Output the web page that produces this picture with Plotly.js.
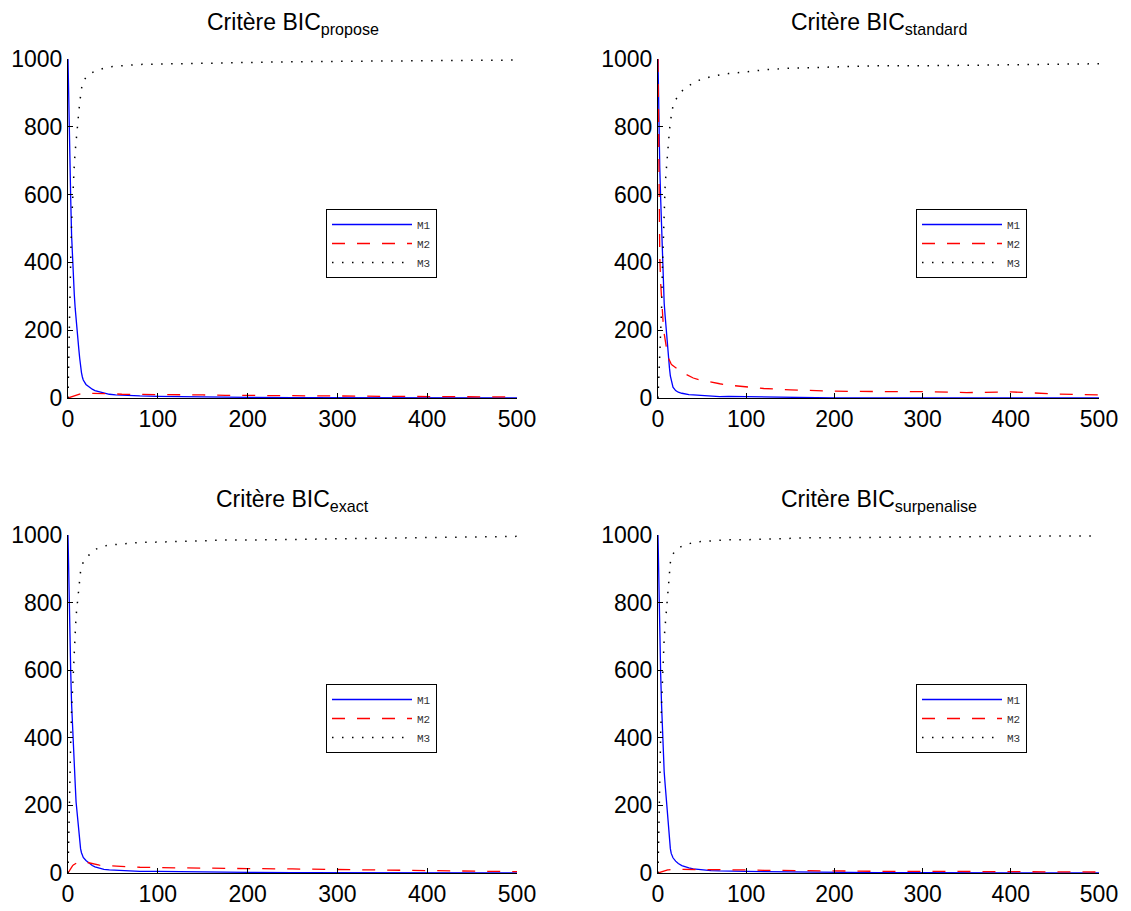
<!DOCTYPE html>
<html>
<head>
<meta charset="utf-8">
<script src="https://cdn.plot.ly/plotly-3.0.1.min.js"></script>
<style>html,body{margin:0;padding:0;background:#fff;}#chart{width:1131px;height:911px;}</style>
</head>
<body>
<div id="chart"></div>
<script>
// sample sizes (x axis)
const n = [0,1,2,3,4,5,6,7,8,9,10,11,12,13,14,15,16,17,20,23,27,30,35,40,46,53,60,70,80,100,120,150,175,200,250,300,350,400,450,500];

// Critère BIC propose
const proposeM1 = [1000,820,680,590,480,400,345,305,265,228,200,175,145,118,92,75,62,53,40,33,26,22,18,14,11,9,8,7,6,5,4,3,3,2,1,1,1,0,0,0];
const proposeM2 = [0,1,2,3,4,5,6,7,8,9,10,11,12,12,13,13,14,14,14,14,14,14,13,13,12,12,11,11,10,10,9,9,8,8,7,6,5,4,3,3];
const proposeM3 = [0,179,318,407,516,595,649,688,727,763,790,814,843,870,895,912,924,933,946,953,960,964,969,973,977,979,981,982,984,985,987,988,989,990,992,993,994,996,997,997];

// Critère BIC standard
const standardM1 = [1000,800,680,590,500,400,320,280,245,210,180,145,115,88,65,50,40,32,22,17,14,12,10,9,8,7,5,4,5,4,2,1,1,0,0,0,0,0,0,0];
const standardM2 = [1000,560,420,340,290,250,215,190,170,150,137,125,117,110,105,100,97,95,88,82,76,72,65,59,54,50,46,42,38,33,28,24,21,20,19,19,16,18,12,9];
const standardM3 = [0,60,130,200,260,380,480,560,620,660,700,735,765,790,815,835,850,862,880,892,905,912,922,930,937,943,948,953,957,962,968,973,975,978,980,980,982,982,985,986];

// Critère BIC exact
const exactM1 = [1000,820,690,600,500,430,360,310,265,210,180,140,110,90,72,60,52,46,37,30,22,18,14,11,9,8,7,6,5,5,4,3,2,2,1,1,0,0,0,0];
const exactM2 = [0,5,10,14,18,21,24,26,28,30,31,32,33,34,35,35,35,34,32,30,27,25,23,22,21,20,19,18,17,16,15,14,13,13,12,10,8,6,5,4];
const exactM3 = [0,175,300,386,482,549,616,664,707,760,789,828,857,876,893,905,913,920,931,940,951,957,963,967,970,972,974,976,978,979,981,983,985,985,987,989,992,994,995,996];

// Critère BIC surpenalise
const surpenaliseM1 = [1000,820,690,590,500,420,350,300,265,230,195,150,115,90,72,58,50,45,35,28,22,19,15,12,10,9,7,6,5,5,4,3,2,2,1,1,1,0,0,0];
const surpenaliseM2 = [0,1,2,3,4,5,6,6,7,8,8,9,9,10,10,10,11,11,11,11,11,11,11,10,10,10,10,9,9,9,8,7,6,6,5,5,4,3,3,3];
const surpenaliseM3 = [0,179,308,407,496,575,644,694,728,762,797,841,876,900,918,932,939,944,954,961,967,970,974,978,980,981,983,985,986,986,988,990,992,992,994,994,995,997,997,997];

const seriesNames = ['M1','M2','M3'];
const panelTitles = ['Critère BIC<sub>propose</sub>','Critère BIC<sub>standard</sub>','Critère BIC<sub>exact</sub>','Critère BIC<sub>surpenalise</sub>'];
const panels = [
  [proposeM1, proposeM2, proposeM3],
  [standardM1, standardM2, standardM3],
  [exactM1, exactM2, exactM3],
  [surpenaliseM1, surpenaliseM2, surpenaliseM3]
];
const xTicks = [0,100,200,300,400,500];
const yTicks = [0,200,400,600,800,1000];

const lineStyles = [
  {color:'#0000ff', width:1.3, dash:'solid'},
  {color:'#ff0000', width:1.3, dash:'13px,12px'},
  {color:'#000000', width:1.5, dash:'1.5px,8.5px'}
];

const W = 1131, H = 911;
const xDom = [[68/W, 517/W],[658/W, 1099/W]];
const yDom = [[513/H, 852/H],[38/H, 376/H]];
const legendPos = [[326/W, 1-209/H],[916/W, 1-209/H],[326/W, 1-684/H],[916/W, 1-684/H]];

const traces = [];
const layout = {
  width: W, height: H,
  margin: {l:0, r:0, t:0, b:0},
  paper_bgcolor: '#ffffff',
  plot_bgcolor: '#ffffff',
  font: {family: 'Liberation Sans, Arial, sans-serif', color: '#000'},
  annotations: [],
  showlegend: true
};

const axisBase = {
  showline: true, linecolor: '#000', linewidth: 1, mirror: false,
  ticks: 'inside', ticklen: 5, tickwidth: 1, tickcolor: '#000',
  showgrid: false, zeroline: false,
  tickfont: {family: 'Liberation Sans, Arial, sans-serif', size: 23, color: '#000'},
  fixedrange: true
};

panels.forEach((p, i) => {
  const col = i % 2, row = Math.floor(i / 2);
  const xa = i === 0 ? 'xaxis' : 'xaxis' + (i + 1);
  const ya = i === 0 ? 'yaxis' : 'yaxis' + (i + 1);
  const xr = i === 0 ? 'x' : 'x' + (i + 1);
  const yr = i === 0 ? 'y' : 'y' + (i + 1);
  const lg = i === 0 ? 'legend' : 'legend' + (i + 1);
  layout[xa] = Object.assign({}, axisBase, {domain: xDom[col], range: [0, 500], tickvals: xTicks, anchor: yr});
  layout[ya] = Object.assign({}, axisBase, {domain: yDom[row], range: [0, 1000], tickvals: yTicks, anchor: xr});
  layout[lg] = {
    x: legendPos[i][0], y: legendPos[i][1], xanchor: 'left', yanchor: 'top',
    bgcolor: '#ffffff', bordercolor: '#000', borderwidth: 1,
    font: {family: 'Liberation Mono, Courier New, monospace', size: 11, color: '#333'},
    itemwidth: 80, tracegroupgap: 0
  };
  p.forEach((vals, k) => {
    traces.push({
      type: 'scatter', mode: 'lines', x: n, y: vals,
      xaxis: xr, yaxis: yr, legend: lg, name: seriesNames[k],
      line: lineStyles[k], hoverinfo: 'skip'
    });
  });
  layout.annotations.push({
    xref: 'paper', yref: 'paper',
    x: (xDom[col][0] + xDom[col][1]) / 2,
    y: yDom[row][1] + 35/H,
    xanchor: 'center', yanchor: 'middle',
    text: panelTitles[i], showarrow: false,
    font: {family: 'Liberation Sans, Arial, sans-serif', size: 23, color: '#000'}
  });
});

Plotly.newPlot('chart', traces, layout, {displayModeBar: false, staticPlot: true});
</script>
</body>
</html>
